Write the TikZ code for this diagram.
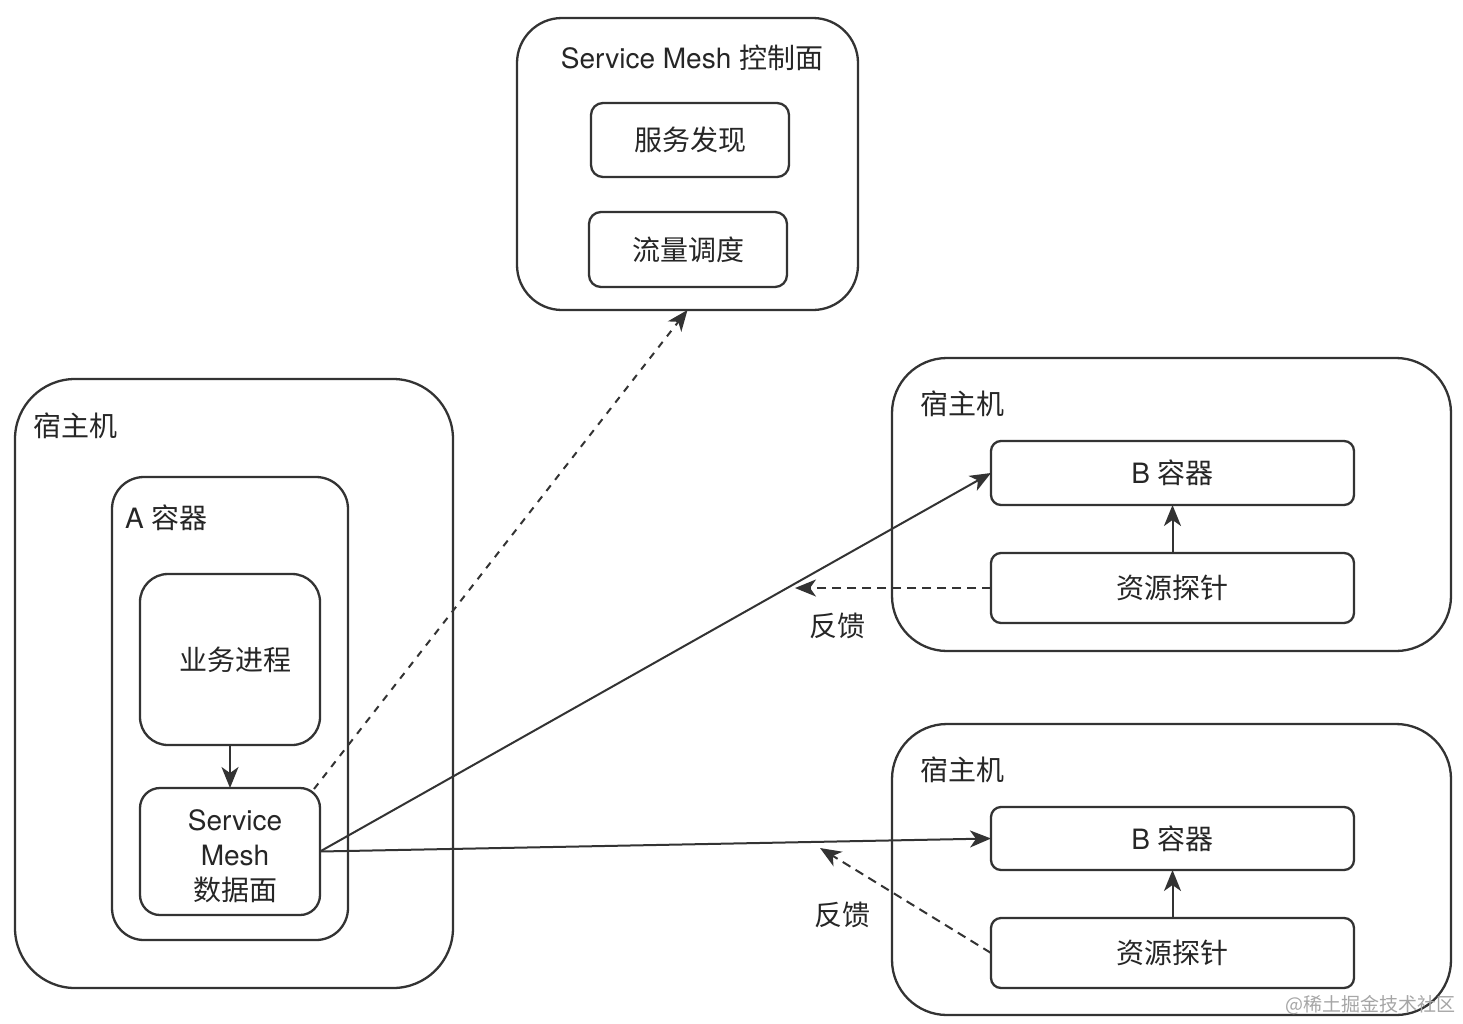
\documentclass[tikz,border=0pt]{standalone}
\usepackage{fontspec}
\setmainfont{TeX Gyre Heros}
\newfontfamily\cjk{Noto Sans CJK SC}
\newcommand{\zh}[1]{{\cjk #1}}
\usetikzlibrary{arrows.meta}
\definecolor{linec}{HTML}{333333}
\definecolor{textc}{HTML}{262626}
\tikzset{
  box/.style={draw=linec, line width=2.3pt, rounded corners=#1, inner sep=0pt, outer sep=0pt,
    text=textc, font=\fontsize{28}{35}\selectfont, align=center},
  box/.default=12pt,
  lbl/.style={text=textc, font=\fontsize{28}{35}\selectfont, inner sep=0pt, align=center},
  arr/.style={draw=linec, line width=2pt, -{Stealth[length=21pt,width=17pt,inset=6pt]}},
  darr/.style={arr, dash pattern=on 9pt off 6pt},
  carr/.style={arr, dash pattern=on 7pt off 7pt},
}
\begin{document}
\begin{tikzpicture}[x=1pt,y=-1pt]
\useasboundingbox (0,0) rectangle (1463,1023);
\fill[white] (0,0) rectangle (1463,1023);

% control plane
\node[box=45pt, minimum width=341pt, minimum height=292pt] (ctrl) at (687.5,164) {};
\node[lbl] (ctrlt) at (692,58) {Service Mesh \zh{控制面}};
\node[box, minimum width=198pt, minimum height=74pt] (sd) at (690,140) {\zh{服务发现}};
\node[box, minimum width=198pt, minimum height=75pt] (ts) at (688,249.5) {\zh{流量调度}};

% left host
\node[box=60pt, minimum width=438pt, minimum height=609pt] (hostA) at (234,683.5) {};
\node[lbl, anchor=west] (hostAt) at (33,426) {\zh{宿主机}};
\node[box=32pt, minimum width=236pt, minimum height=463pt] (contA) at (230,708.5) {};
\node[lbl, anchor=west] (contAt) at (125,518) {A \zh{容器}};
\node[box=28pt, minimum width=180pt, minimum height=171pt] (biz) at (230,659.5) {};
\node[lbl] (bizt) at (235,660) {\zh{业务进程}};
\node[box=20pt, minimum width=180pt, minimum height=127pt] (sm) at (230,851.5) {};
\node[lbl] (smt) at (235,856) {Service\\Mesh\\\zh{数据面}};

% right host 1
\node[box=55pt, minimum width=559pt, minimum height=293pt] (host1) at (1171.5,504.5) {};
\node[lbl, anchor=west] (host1t) at (920,404) {\zh{宿主机}};
\node[box=10pt, minimum width=363pt, minimum height=64pt] (b1) at (1172.5,473) {B \zh{容器}};
\node[box=10pt, minimum width=363pt, minimum height=70pt] (p1) at (1172.5,588) {\zh{资源探针}};

% right host 2
\node[box=55pt, minimum width=559pt, minimum height=291pt] (host2) at (1171.5,869.5) {};
\node[lbl, anchor=west] (host2t) at (920,770) {\zh{宿主机}};
\node[box=10pt, minimum width=363pt, minimum height=63pt] (b2) at (1172.5,838.5) {B \zh{容器}};
\node[box=10pt, minimum width=363pt, minimum height=70pt] (p2) at (1172.5,953) {\zh{资源探针}};

% connectors
\draw[arr] (biz.south) -- (sm.north);
\draw[arr] (p1.north) -- (b1.south);
\draw[arr] (p2.north) -- (b2.south);
\coordinate (dstart) at (314,789);
\draw[carr] (dstart) -- (ctrl.south);
\draw[arr] (sm.east) -- (b1.west);
\draw[arr] (sm.east) -- (b2.west);
\coordinate (fb1) at (795,588);
\coordinate (fb2) at (820,848);
\draw[darr] (p1.west) -- (fb1);
\draw[darr] (p2.west) -- (fb2);
\node[lbl] (fb1t) at (837,626) {\zh{反馈}};
\node[lbl] (fb2t) at (842,915) {\zh{反馈}};

% watermark
\node[anchor=east, inner sep=0pt, text=gray!70, font=\cjk\fontsize{19}{20}\selectfont] (wm) at (1456,1005) {@稀土掘金技术社区};
\end{tikzpicture}
\end{document}
